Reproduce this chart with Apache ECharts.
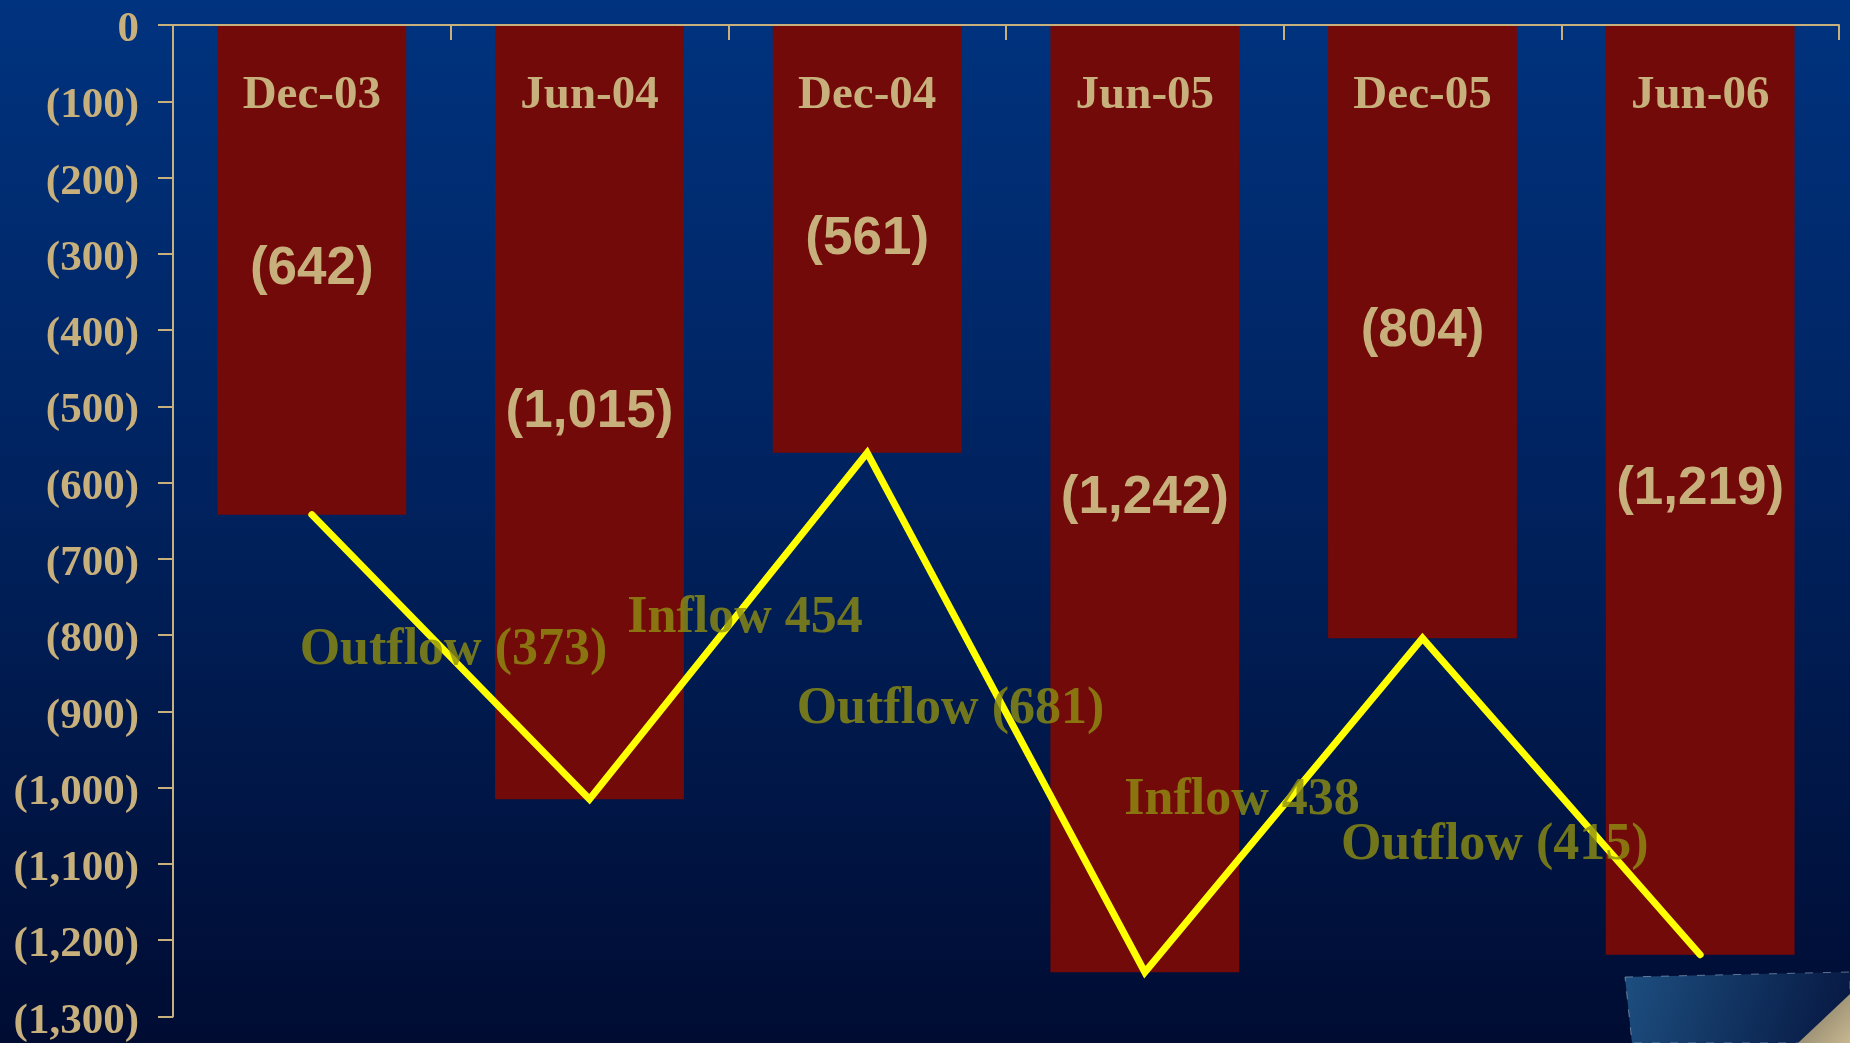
<!DOCTYPE html>
<html>
<head>
<meta charset="utf-8">
<script src="https://cdn.jsdelivr.net/npm/echarts@6/dist/echarts.min.js"></script>
<style>
html,body{margin:0;padding:0;width:1850px;height:1043px;overflow:hidden;background:#001a50;}
#chart{width:1850px;height:1043px;}
</style>
</head>
<body>
<div id="chart"></div>
<script>
// ---- data ----
const categories = ['Dec-03', 'Jun-04', 'Dec-04', 'Jun-05', 'Dec-05', 'Jun-06'];
const balances = [-642, -1015, -561, -1242, -804, -1219];
const yTicks = { min: -1300, max: 0, step: 100 };
// flow annotations: text from consecutive differences, anchor (category-position, value)
const flowAnchorX = [1.01, 2.06, 2.80, 3.85, 4.76];
const flowAnchorY = [-820, -778, -898, -1017, -1076];

const TAN = '#c8b07c';
const fmtNeg = v => v === 0 ? '0' : (v < 0 ? '(' + Math.abs(v).toLocaleString('en-US') + ')' : v.toLocaleString('en-US'));

const flows = [];
for (let i = 1; i < balances.length; i++) {
  const d = balances[i] - balances[i - 1];
  const txt = d < 0 ? 'Outflow (' + Math.abs(d).toLocaleString('en-US') + ')' : 'Inflow ' + d.toLocaleString('en-US');
  flows.push({ value: [flowAnchorX[i - 1], flowAnchorY[i - 1]], name: txt });
}

const chart = echarts.init(document.getElementById('chart'), null, { renderer: 'canvas' });
chart.setOption({
  backgroundColor: {
    type: 'linear', x: 0, y: 0, x2: 0, y2: 1,
    colorStops: [
      { offset: 0, color: '#00337f' },
      { offset: 0.5, color: '#00215c' },
      { offset: 1, color: '#000c32' }
    ]
  },
  animation: false,
  grid: { left: 173, top: 25, right: 11, bottom: 25, containLabel: false },
  xAxis: [{
    type: 'category',
    data: categories,
    position: 'top',
    axisLine: { show: true, onZero: false, lineStyle: { color: TAN, width: 2 } },
    axisTick: { show: true, inside: true, length: 15, lineStyle: { color: TAN, width: 2 } },
    axisLabel: {
      inside: true, margin: 71, verticalAlign: 'middle',
      color: TAN, fontFamily: 'Liberation Serif', fontWeight: 'bold', fontSize: 47
    },
    splitLine: { show: false },
    z: 5
  }, {
    type: 'value', min: 0, max: 6, show: false, position: 'bottom'
  }],
  yAxis: [{
    type: 'value',
    min: yTicks.min, max: yTicks.max, interval: yTicks.step,
    axisLine: { show: true, lineStyle: { color: TAN, width: 2 } },
    axisTick: { show: true, length: 15, lineStyle: { color: TAN, width: 2 } },
    axisLabel: {
      margin: 34, color: TAN, fontFamily: 'Liberation Serif', fontWeight: 'bold', fontSize: 43,
      formatter: v => '{t|' + fmtNeg(v) + '}',
      rich: {
        t: { color: TAN, fontFamily: 'Liberation Serif', fontWeight: 'bold', fontSize: 43, padding: [10, 0, 0, 0] }
      }
    },
    splitLine: { show: false }
  }],
  series: [{
    type: 'bar',
    data: balances,
    barWidth: '68%',
    itemStyle: { color: '#730a0a' },
    label: {
      show: true, position: 'inside', color: TAN,
      fontFamily: 'Liberation Sans', fontWeight: 'bold', fontSize: 53,
      formatter: p => fmtNeg(p.value)
    },
    z: 2
  }, {
    type: 'line',
    data: balances,
    symbol: 'none',
    lineStyle: { color: '#ffff00', width: 7, cap: 'round', join: 'miter' },
    z: 4
  }, {
    type: 'scatter',
    xAxisIndex: 1, yAxisIndex: 0,
    data: flows,
    symbolSize: 0,
    label: {
      show: true, position: 'inside', color: '#8f8f12',
      fontFamily: 'Liberation Serif', fontWeight: 'bold', fontSize: 52,
      formatter: p => p.name
    },
    z: 6
  }],
  graphic: [{
    type: 'polygon',
    shape: { points: [[1625, 977], [1850, 972], [1850, 1043], [1632, 1043]] },
    style: {
      fill: { type: 'linear', x: 0, y: 0, x2: 1, y2: 1,
        colorStops: [{ offset: 0, color: '#1d4f80' }, { offset: 1, color: '#061640' }] },
      stroke: 'rgba(180,200,220,0.5)', lineWidth: 1, lineDash: [8, 10]
    },
    z: 10
  }, {
    type: 'polygon',
    shape: { points: [[1850, 994], [1798, 1043], [1850, 1043]] },
    style: {
      fill: { type: 'linear', x: 0, y: 0, x2: 1, y2: 1,
        colorStops: [{ offset: 0, color: '#7a7260' }, { offset: 1, color: '#c8b890' }] }
    },
    z: 11
  }]
});
</script>
</body>
</html>
